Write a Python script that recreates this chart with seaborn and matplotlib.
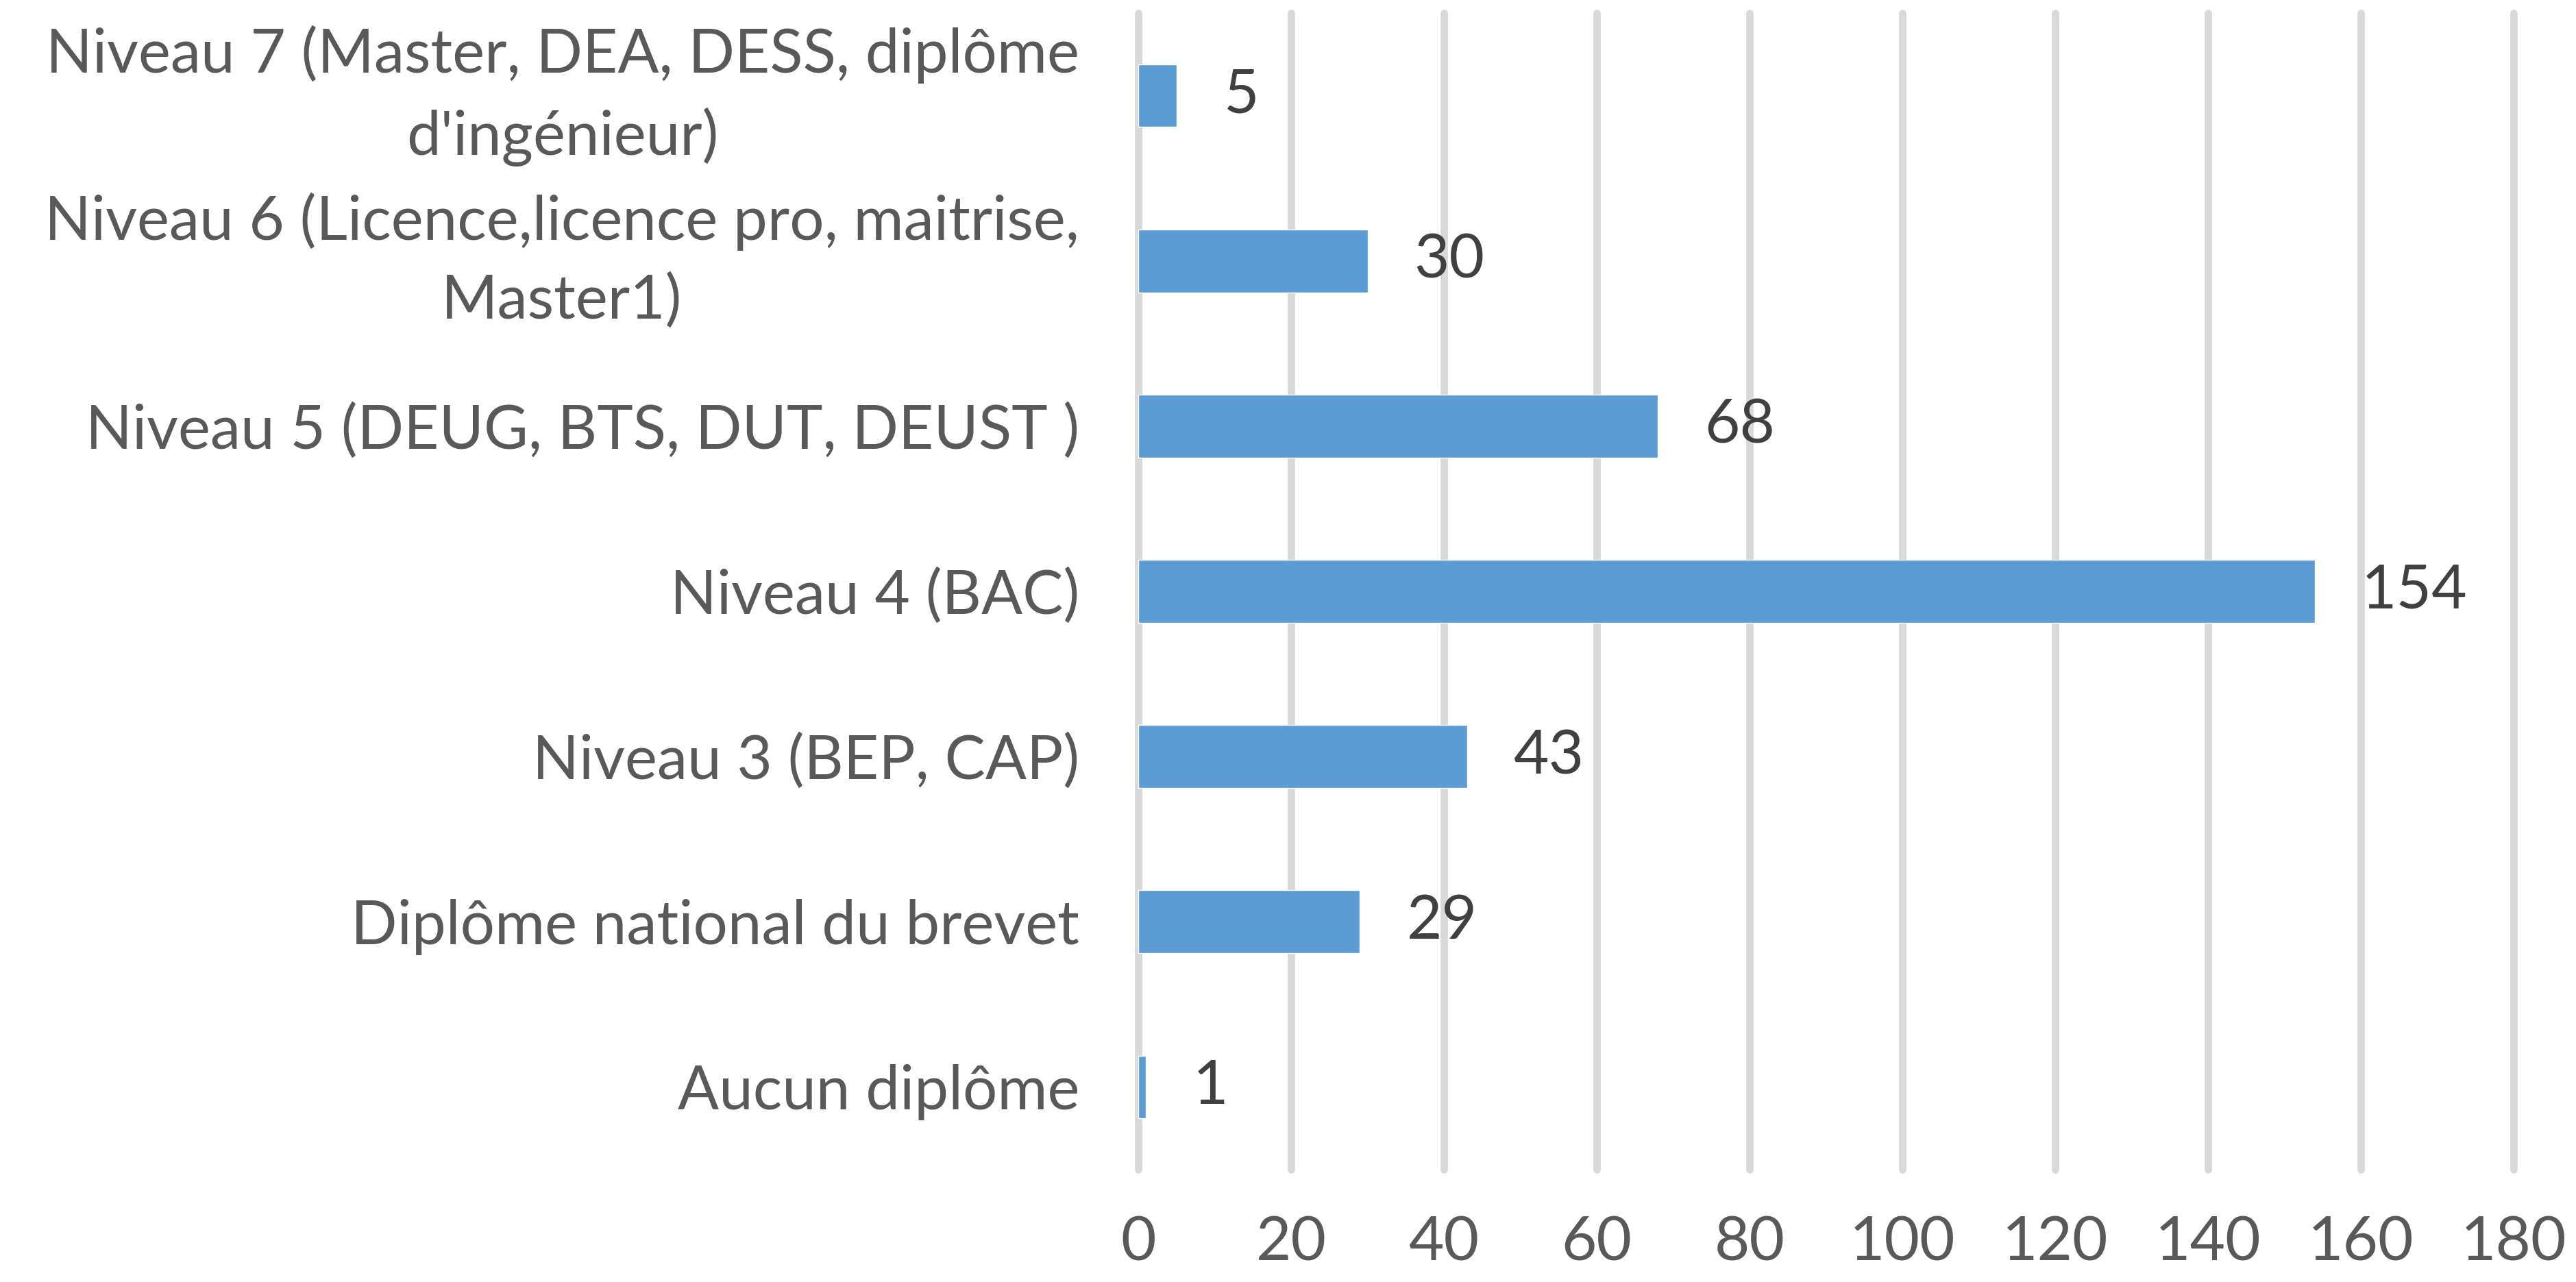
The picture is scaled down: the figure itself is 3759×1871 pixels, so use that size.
import matplotlib
matplotlib.use("Agg")
import matplotlib.pyplot as plt
import seaborn as sns

# Data (top to bottom)
categories = [
    "Niveau 7 (Master, DEA, DESS, diplôme\nd'ingénieur)",
    "Niveau 6 (Licence,licence pro, maitrise,\nMaster1)",
    "Niveau 5 (DEUG, BTS, DUT, DEUST )",
    "Niveau 4 (BAC)",
    "Niveau 3 (BEP, CAP)",
    "Diplôme national du brevet",
    "Aucun diplôme",
]
values = [5, 30, 68, 154, 43, 29, 1]
x_ticks = [0, 20, 40, 60, 80, 100, 120, 140, 160, 180]

sns.set_theme(style="white")
plt.rcParams['font.family'] = ['Lato', 'DejaVu Sans']

fig = plt.figure(figsize=(37.59, 18.71), dpi=100)
ax = fig.add_axes([0.4419, 0.0877, 0.9758 - 0.4419, 0.9021])

sns.barplot(x=values, y=categories, orient='h', color='#5B9BD5',
            saturation=1, width=0.38, ax=ax)

# Data labels
for i, v in enumerate(values):
    ax.annotate(str(v), xy=(v, i), xytext=(49, 0), textcoords='offset points',
                ha='left', va='center', fontsize=64, color='#404040')

ax.set_xlim(0, 180)
ax.set_xticks(x_ticks)
ax.set_xlabel("")
ax.set_ylabel("")

ax.xaxis.grid(True, color='#D9D9D9', linewidth=7.7)
ax.yaxis.grid(False)
ax.set_axisbelow(True)
for gl in ax.get_xgridlines():
    gl.set_clip_on(False)

for s in ax.spines.values():
    s.set_visible(False)

ax.tick_params(axis='x', length=0, pad=48, labelsize=64, labelcolor='#595959')
ax.tick_params(axis='y', length=0, pad=62, labelsize=64, labelcolor='#595959')
for lbl in ax.get_yticklabels():
    lbl.set_multialignment('center')
    lbl.set_linespacing(1.5)
    if "\n" in lbl.get_text():
        lbl.set_va('center')

fig.savefig("out.png", dpi=100)
